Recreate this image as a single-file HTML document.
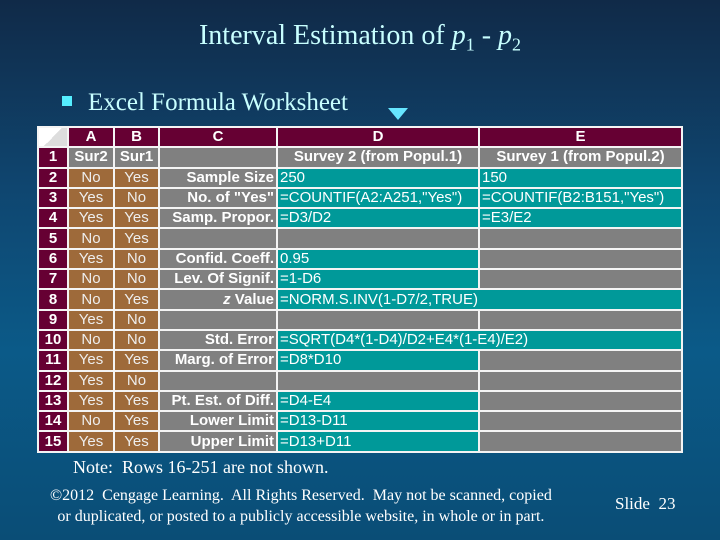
<!DOCTYPE html>
<html><head><meta charset="utf-8"><style>
body{margin:0;width:720px;height:540px;overflow:hidden;background:linear-gradient(to bottom,#102a48 0%,#0f4670 35%,#0b5a88 65%,#0a4d76 100%);position:relative;font-family:"Liberation Serif",serif;color:#e8ffff}
.abs{position:absolute;white-space:nowrap}
table{position:absolute;left:37px;top:126px;border-collapse:separate;border-spacing:2px;background:#f4f4f4;table-layout:fixed;font-family:"Liberation Sans",sans-serif;font-size:15px;color:#fff}
td{height:18.3px;padding:0 3px;line-height:18px;overflow:visible;white-space:nowrap}
.h{background:#660033;font-weight:bold;text-align:center}
.r{background:#660033;font-weight:bold;text-align:center;padding:0}
.a{background:#9e6a3a;text-align:center;color:#eee;padding:0}
.g{background:#808080}
.c{background:#808080;font-weight:bold;text-align:right;padding-right:2px}
.t{background:#009999;padding-left:2px}
.b{font-weight:bold;text-align:center}
</style></head><body>
<div class="abs" style="left:0;width:720px;text-align:center;top:20px;font-size:28px;color:#c8ffff">Interval Estimation of <i>p</i><sub style="font-size:18px">1</sub> - <i>p</i><sub style="font-size:18px">2</sub></div>
<div class="abs" style="left:62px;top:96px;width:10px;height:10px;background:#55eeff"></div>
<div class="abs" style="left:88px;top:89px;font-size:25px;color:#c8ffff">Excel Formula Worksheet</div>
<div class="abs" style="left:388px;top:108px;width:0;height:0;border-left:10px solid transparent;border-right:10px solid transparent;border-top:12px solid #66e6ff"></div>
<table>
<colgroup><col style="width:28px"><col style="width:44px"><col style="width:43px"><col style="width:116px"><col style="width:200px"><col style="width:201px"></colgroup>
<tr><td style="background:linear-gradient(135deg,#fff 50%,#ddd 50%)"></td><td class="h">A</td><td class="h">B</td><td class="h">C</td><td class="h">D</td><td class="h">E</td></tr>
<tr><td class="r">1</td><td class="g b">Sur2</td><td class="g b">Sur1</td><td class="g"></td><td class="g b">Survey 2 (from Popul.1)</td><td class="g b">Survey 1 (from Popul.2)</td></tr>
<tr><td class="r">2</td><td class="a">No</td><td class="a">Yes</td><td class="c">Sample Size</td><td class="t">250</td><td class="t">150</td></tr>
<tr><td class="r">3</td><td class="a">Yes</td><td class="a">No</td><td class="c">No. of "Yes"</td><td class="t">=COUNTIF(A2:A251,"Yes")</td><td class="t">=COUNTIF(B2:B151,"Yes")</td></tr>
<tr><td class="r">4</td><td class="a">Yes</td><td class="a">Yes</td><td class="c">Samp. Propor.</td><td class="t">=D3/D2</td><td class="t">=E3/E2</td></tr>
<tr><td class="r">5</td><td class="a">No</td><td class="a">Yes</td><td class="g"></td><td class="g"></td><td class="g"></td></tr>
<tr><td class="r">6</td><td class="a">Yes</td><td class="a">No</td><td class="c">Confid. Coeff.</td><td class="t">0.95</td><td class="g"></td></tr>
<tr><td class="r">7</td><td class="a">No</td><td class="a">No</td><td class="c">Lev. Of Signif.</td><td class="t">=1-D6</td><td class="g"></td></tr>
<tr><td class="r">8</td><td class="a">No</td><td class="a">Yes</td><td class="c"><i>z</i> Value</td><td class="t" colspan="2">=NORM.S.INV(1-D7/2,TRUE)</td></tr>
<tr><td class="r">9</td><td class="a">Yes</td><td class="a">No</td><td class="g"></td><td class="g"></td><td class="g"></td></tr>
<tr><td class="r">10</td><td class="a">No</td><td class="a">No</td><td class="c">Std. Error</td><td class="t" colspan="2">=SQRT(D4*(1-D4)/D2+E4*(1-E4)/E2)</td></tr>
<tr><td class="r">11</td><td class="a">Yes</td><td class="a">Yes</td><td class="c">Marg. of Error</td><td class="t">=D8*D10</td><td class="g"></td></tr>
<tr><td class="r">12</td><td class="a">Yes</td><td class="a">No</td><td class="g"></td><td class="g"></td><td class="g"></td></tr>
<tr><td class="r">13</td><td class="a">Yes</td><td class="a">Yes</td><td class="c">Pt. Est. of Diff.</td><td class="t">=D4-E4</td><td class="g"></td></tr>
<tr><td class="r">14</td><td class="a">No</td><td class="a">Yes</td><td class="c">Lower Limit</td><td class="t">=D13-D11</td><td class="g"></td></tr>
<tr><td class="r">15</td><td class="a">Yes</td><td class="a">Yes</td><td class="c">Upper Limit</td><td class="t">=D13+D11</td><td class="g"></td></tr>
</table>
<div class="abs" style="left:73px;top:457px;font-size:18px;color:#fff">Note:&nbsp; Rows 16-251 are not shown.</div>
<div class="abs" style="left:50px;top:485px;font-size:16px;line-height:21px;color:#fff;text-align:center">©2012&nbsp; Cengage Learning.&nbsp; All Rights Reserved.&nbsp; May not be scanned, copied<br>or duplicated, or posted to a publicly accessible website, in whole or in part.</div>
<div class="abs" style="left:615px;top:494px;font-size:17px;color:#fff">Slide&nbsp; 23</div>
</body></html>
